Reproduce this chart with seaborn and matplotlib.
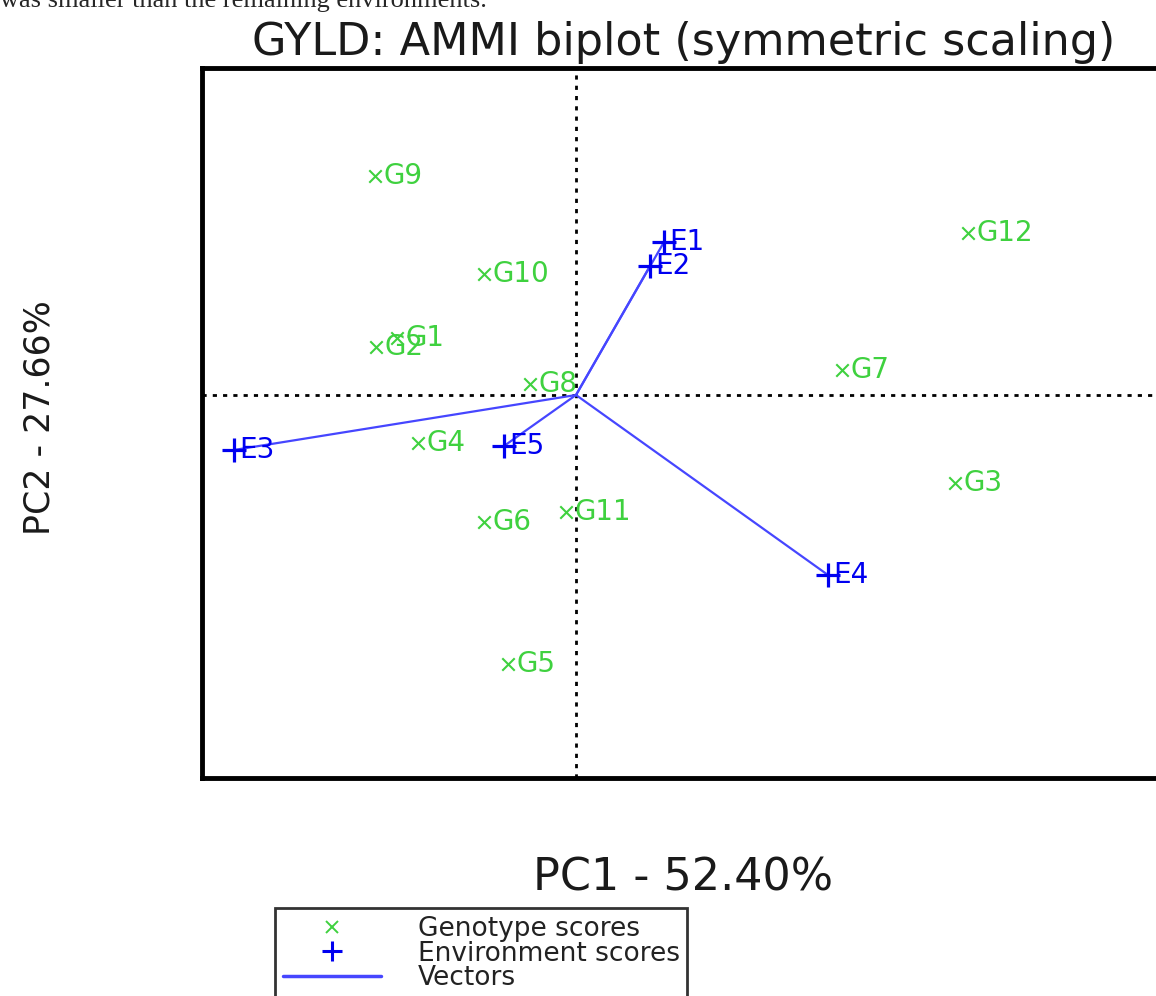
import matplotlib as mpl
import matplotlib.pyplot as plt
from matplotlib.lines import Line2D
import seaborn as sns
import pandas as pd

# genotype scores (PC1, PC2)
geno_names = ["G1", "G2", "G3", "G4", "G5", "G6", "G7", "G8", "G9", "G10", "G11", "G12"]
geno_pc1 = [-1.79, -2.00, 3.79, -1.58, -0.68, -0.92, 2.66, -0.46, -2.01, -0.92, -0.10, 3.92]
geno_pc2 = [0.57, 0.48, -0.88, -0.48, -2.69, -1.27, 0.25, 0.11, 2.19, 1.21, -1.17, 1.62]

# environment scores (PC1, PC2)
env_names = ["E1", "E2", "E3", "E4", "E5"]
env_pc1 = [0.88, 0.74, -3.42, 2.52, -0.72]
env_pc2 = [1.53, 1.29, -0.55, -1.80, -0.51]

title = "GYLD: AMMI biplot (symmetric scaling)"
xlab = "PC1 - 52.40%"
ylab = "PC2 - 27.66%"
caption_cut = "was smaller than the remaining environments."

green = "#3fd13f"
blue = "#0000f0"
vec_blue = "#4646ff"

sns.set_style("white")
plt.rcParams["font.family"] = ["DejaVu Sans"]

fig = plt.figure(figsize=(11.56, 9.96), dpi=100)
W, H = 1156, 996
ax = fig.add_axes([202 / W, 1 - 778 / H, (1164 - 202) / W, (778 - 68) / H])

geno = pd.DataFrame({"name": geno_names, "pc1": geno_pc1, "pc2": geno_pc2})
env = pd.DataFrame({"name": env_names, "pc1": env_pc1, "pc2": env_pc2})

# vectors from origin to each environment
vec = pd.concat([
    pd.DataFrame({"env": env_names, "pc1": 0.0, "pc2": 0.0, "step": 0}),
    pd.DataFrame({"env": env_names, "pc1": env_pc1, "pc2": env_pc2, "step": 1}),
]).sort_values(["env", "step"])

ax.axhline(0, color="black", ls=(0, (1.5, 2.2)), lw=2, zorder=1)
ax.axvline(0, color="black", ls=(0, (1.5, 2.2)), lw=2, zorder=1)

sns.lineplot(data=vec, x="pc1", y="pc2", units="env", estimator=None, sort=False,
             color=vec_blue, lw=1.6, ax=ax, zorder=2)
sns.scatterplot(data=geno, x="pc1", y="pc2", marker="x", s=80, color=green,
                linewidth=1.5, ax=ax, zorder=3)
sns.scatterplot(data=env, x="pc1", y="pc2", marker="+", s=280, color=blue,
                linewidth=2.3, ax=ax, zorder=4)

for n, x, y in zip(geno_names, geno_pc1, geno_pc2):
    ax.annotate(n, (x, y), xytext=(6, 0), textcoords="offset points",
                va="center", ha="left", color=green, fontsize=20)
for n, x, y in zip(env_names, env_pc1, env_pc2):
    ax.annotate(n, (x, y), xytext=(4, 0), textcoords="offset points",
                va="center", ha="left", color=blue, fontsize=20)

ax.set_xlim(-3.74, (1164 - 576) / 100)
ax.set_ylim(-3.83, 3.27)
ax.set_xticks([])
ax.set_yticks([])
ax.set_xlabel("")
ax.set_ylabel("")
for sp in ax.spines.values():
    sp.set_color("black")
    sp.set_linewidth(3.5)

fig.text(684 / W, 1 - 42 / H, title, ha="center", va="center", fontsize=32,
         color="#1a1a1a")
fig.text(683 / W, 1 - 878 / H, xlab, ha="center", va="center", fontsize=32,
         color="#1a1a1a")
fig.text(40 / W, 1 - 418 / H, ylab, ha="center", va="center", rotation=90,
         fontsize=25, color="#1a1a1a")
fig.text(0.0, 1 - 7 / H, caption_cut, ha="left", va="baseline", fontsize=19,
         family=["Liberation Serif", "DejaVu Serif"])

handles = [
    Line2D([], [], marker="x", color=green, ls="none", markersize=9, mew=1.4),
    Line2D([], [], marker="+", color=blue, ls="none", markersize=15, mew=2.2),
    Line2D([], [], color=vec_blue, lw=2.5),
]
labels = ["Genotype scores", "Environment scores", "Vectors"]
leg = fig.legend(handles, labels, loc="upper left",
                 bbox_to_anchor=(275 / W, 1 - 908 / H), fontsize=19,
                 frameon=True, fancybox=False, edgecolor="black",
                 handlelength=3.7, handletextpad=1.4, labelspacing=-0.05,
                 borderpad=0.3, borderaxespad=0)
leg.get_frame().set_linewidth(2)
for t in leg.get_texts():
    t.set_color("#222222")

fig.savefig("out.png", dpi=100)
